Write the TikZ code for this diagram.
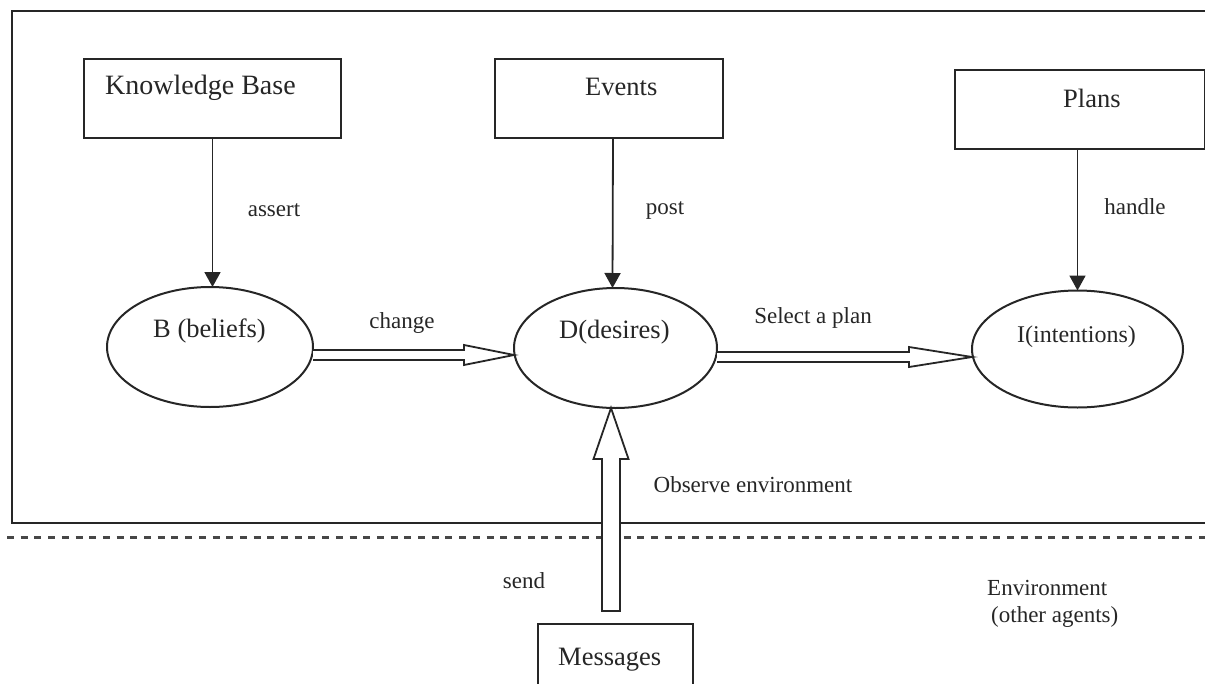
\documentclass[tikz,border=0pt]{standalone}
\usepackage{fontspec}
\setmainfont{Liberation Serif}
\usetikzlibrary{calc,shapes.geometric,arrows.meta}
\definecolor{ink}{HTML}{262626}
\begin{document}
\begin{tikzpicture}[x=1pt,y=-1pt,
  every node/.style={text=ink},
  stroke/.style={draw=ink,line width=2pt},
  store/.style={stroke,rectangle,inner sep=0pt,outer sep=0pt},
  state/.style={stroke,ellipse,inner sep=0pt,outer sep=0pt},
  boxtext/.style={font=\fontsize{26.5}{30}\selectfont,anchor=base west,inner sep=0pt},
  tag/.style={font=\fontsize{23}{27}\selectfont,anchor=base,inner sep=0pt},
  link/.style={draw=ink,line width=1.8pt,-{Triangle[width=16pt,length=15pt]}},
  flow/.style={draw=ink,line width=1.8pt,fill=white,line join=miter}
]
\useasboundingbox (0,0) rectangle (1205,683);
\clip (0,0) rectangle (1205,683);

% agent frame and environment boundary
\draw[draw=ink,line width=2.4pt] (1215,11) -- (12,11) -- (12,523) -- (1215,523);
\draw[draw=ink!85,line width=2.2pt,dash pattern=on 7pt off 6.7pt] (7,537.5) -- (1215,537.5);

% stores
\node[store,minimum width=257,minimum height=79] (kb) at (212.5,98) {};
\node[store,minimum width=228,minimum height=79] (ev) at (609,98.5) {};
\node[store,minimum width=250,minimum height=79] (pl) at (1080,109.5) {};
\node[store,minimum width=155,minimum height=80] (ms) at (615.5,664) {};

% mental states
\node[state,minimum width=206,minimum height=120] (b) at (210,347) {};
\node[state,minimum width=203,minimum height=120] (d) at (615.5,348) {};
\node[state,minimum width=211,minimum height=117] (i) at (1077.5,349) {};

% texts inside shapes
\node[boxtext,font=\fontsize{28}{32}\selectfont] (kbt) at (105,94.3) {Knowledge Base};
\node[boxtext] (evt) at (585,95) {Events};
\node[boxtext] (plt) at (1063,107) {Plans};
\node[boxtext] (mst) at (558,665) {Messages};
\node[boxtext] (bt) at (153,337) {B (beliefs)};
\node[boxtext] (dt) at (559,338) {D(desires)};
\node[boxtext,font=\fontsize{24}{28}\selectfont] (it) at (1017,342) {I(intentions)};

% connector labels
\node[tag] (lassert) at (274,216) {assert};
\node[tag] (lpost) at (665,214) {post};
\node[tag] (lhandle) at (1135,214) {handle};
\node[tag] (lchange) at (402,328) {change};
\node[tag] (lselect) at (813,323) {Select a plan};
\node[tag] (lobs) at (753,492) {Observe environment};
\node[tag] (lsend) at (524,588) {send};
\node[tag,anchor=base west] (lenv) at (987,595) {Environment};
\node[tag,anchor=base west] (lother) at (991,622) {(other agents)};

% simple arrows
\draw[link] (kb.south) -- (kb.south |- b.north);
\draw[link] ($(ev.south)+(4,0)$) -- ($(d.north)+(-3,0)$);
\draw[link] (i.north |- pl.south) -- (i.north);

% hollow arrow: beliefs -> desires
\coordinate (cs) at ($(b.east)+(0,8)$);
\coordinate (ce) at (d.west |- cs);
\draw[flow] ($(cs)+(0,-5)$) -- ($(ce)+(-50,-5)$) -- ($(ce)+(-50,-10)$) -- (ce)
  -- ($(ce)+(-50,10)$) -- ($(ce)+(-50,5)$) -- ($(cs)+(0,5)$);

% hollow arrow: desires -> intentions
\coordinate (ss) at ($(d.east)+(0,9)$);
\coordinate (se) at (i.west |- ss);
\draw[flow] ($(ss)+(0,-5)$) -- ($(se)+(-63,-5)$) -- ($(se)+(-63,-10)$) -- (se)
  -- ($(se)+(-63,10)$) -- ($(se)+(-63,5)$) -- ($(ss)+(0,5)$);

% hollow arrow: messages -> desires
\coordinate (ot) at ($(ms.north)+(-4.5,-13)$);
\coordinate (oh) at ($(d.south)+(-4.5,0)$);
\draw[flow] ($(ot)+(-9,0)$) -- ($(oh)+(-9,51)$) -- ($(oh)+(-17.5,51)$) -- (oh)
  -- ($(oh)+(17.5,51)$) -- ($(oh)+(9,51)$) -- ($(ot)+(9,0)$) -- cycle;
\end{tikzpicture}
\end{document}
